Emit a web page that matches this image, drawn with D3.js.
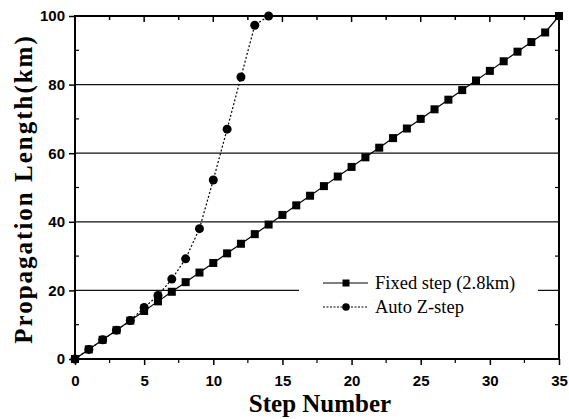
<!DOCTYPE html>
<html>
<head>
<meta charset="utf-8">
<script src="https://cdn.jsdelivr.net/npm/d3@7"></script>
<style>
  html, body { margin: 0; padding: 0; background: #fff; }
  svg { display: block; }
</style>
</head>
<body>
<svg id="chart" width="569" height="419"></svg>
<script>
// Step indices and propagation lengths (km)
const fixedSteps = d3.range(0, 36);
const fixedLength = [0, 2.8, 5.6, 8.4, 11.2, 14.0, 16.8, 19.6, 22.4, 25.2,
  28.0, 30.8, 33.6, 36.4, 39.2, 42.0, 44.8, 47.6, 50.4, 53.2,
  56.0, 58.8, 61.6, 64.4, 67.2, 70.0, 72.8, 75.6, 78.4, 81.2,
  84.0, 86.8, 89.6, 92.4, 95.2, 100];
const autoSteps = d3.range(0, 15);
const autoLength = [0, 2.8, 5.6, 8.4, 11.2, 15.0, 18.5, 23.3, 29.2, 38.0,
  52.2, 67.0, 82.2, 97.3, 100];
const gridValues = [20, 40, 60, 80];
const xTickValues = [0, 5, 10, 15, 20, 25, 30, 35];
const yTickValues = [0, 20, 40, 60, 80, 100];
const seriesNames = ["Fixed step (2.8km)", "Auto Z-step"];

const svg = d3.select("#chart");
const plotL = 75, plotR = 559, plotT = 16, plotB = 359;

const x = d3.scaleLinear().domain([0, 35]).range([plotL, plotR]);
const y = d3.scaleLinear().domain([0, 100]).range([plotB, plotT]);

const tickFont = "'Liberation Sans', Arial, sans-serif";
const serif = "'Liberation Serif', 'Times New Roman', serif";

// horizontal grid lines
svg.append("g").selectAll("line").data(gridValues).join("line")
  .attr("x1", plotL).attr("x2", plotR)
  .attr("y1", d => y(d)).attr("y2", d => y(d))
  .attr("stroke", "#111").attr("stroke-width", 1.2);

// axes: major ticks with labels (outward) on bottom/left
const xAxis = d3.axisBottom(x).tickValues(xTickValues).tickSize(6).tickPadding(10);
const gx = svg.append("g").attr("transform", `translate(0,${plotB})`).call(xAxis);
const yAxis = d3.axisLeft(y).tickValues(yTickValues).tickSize(6).tickPadding(4);
const gy = svg.append("g").attr("transform", `translate(${plotL},0)`).call(yAxis);
[gx, gy].forEach(g => {
  g.select(".domain").remove();
  g.selectAll("line").attr("stroke", "#000").attr("stroke-width", 1.5);
  g.selectAll("text").attr("font-family", tickFont).attr("font-weight", "bold")
    .attr("font-size", 15).attr("fill", "#000");
});

// minor ticks on the bottom axis
const xMinor = d3.range(2.5, 35, 5);
svg.append("g").selectAll("line").data(xMinor).join("line")
  .attr("x1", d => x(d)).attr("x2", d => x(d))
  .attr("y1", plotB).attr("y2", plotB + 4)
  .attr("stroke", "#000").attr("stroke-width", 1.2);
// top ticks (inward)
svg.append("g").selectAll("line").data(d3.range(2.5, 35, 2.5)).join("line")
  .attr("x1", d => x(d)).attr("x2", d => x(d))
  .attr("y1", plotT).attr("y2", d => plotT + (d % 5 === 0 ? 6 : 4))
  .attr("stroke", "#000").attr("stroke-width", 1.5);
// left minor ticks (inward)
svg.append("g").selectAll("line").data(d3.range(10, 100, 20)).join("line")
  .attr("x1", plotL).attr("x2", plotL + 4)
  .attr("y1", d => y(d)).attr("y2", d => y(d))
  .attr("stroke", "#000").attr("stroke-width", 1.2);
// right ticks (inward)
svg.append("g").selectAll("line").data(d3.range(10, 100, 20)).join("line")
  .attr("x1", plotR).attr("x2", plotR - 4)
  .attr("y1", d => y(d)).attr("y2", d => y(d))
  .attr("stroke", "#000").attr("stroke-width", 1.2);

// frame
svg.append("rect").attr("x", plotL).attr("y", plotT)
  .attr("width", plotR - plotL).attr("height", plotB - plotT)
  .attr("fill", "none").attr("stroke", "#000").attr("stroke-width", 2);

// series lines
const fixedData = fixedSteps.map((s, i) => [s, fixedLength[i]]);
const autoData = autoSteps.map((s, i) => [s, autoLength[i]]);
const line = d3.line().x(d => x(d[0])).y(d => y(d[1]));

svg.append("path").datum(fixedData).attr("d", line)
  .attr("fill", "none").attr("stroke", "#000").attr("stroke-width", 1.2);
svg.append("path").datum(autoData).attr("d", line)
  .attr("fill", "none").attr("stroke", "#000").attr("stroke-width", 1.2)
  .attr("stroke-dasharray", "2,2");

// markers
const sq = 8;
svg.append("g").selectAll("rect").data(fixedData).join("rect")
  .attr("x", d => x(d[0]) - sq / 2).attr("y", d => y(d[1]) - sq / 2)
  .attr("width", sq).attr("height", sq).attr("fill", "#000");
svg.append("g").selectAll("circle").data(autoData).join("circle")
  .attr("cx", d => x(d[0])).attr("cy", d => y(d[1])).attr("r", 4.5)
  .attr("fill", "#000");

// legend
const lg = svg.append("g");
lg.append("rect").attr("x", 299).attr("y", 266).attr("width", 239).attr("height", 58)
  .attr("fill", "#fff");
const rows = [283, 307];
rows.forEach((ry, i) => {
  lg.append("line").attr("x1", 323).attr("x2", 368).attr("y1", ry).attr("y2", ry)
    .attr("stroke", "#000").attr("stroke-width", 1)
    .attr("stroke-dasharray", i === 0 ? null : "2,1.5");
  if (i === 0) {
    lg.append("rect").attr("x", 346 - 3.5).attr("y", ry - 3.5)
      .attr("width", 7).attr("height", 7).attr("fill", "#000");
  } else {
    lg.append("circle").attr("cx", 346).attr("cy", ry).attr("r", 3.8).attr("fill", "#000");
  }
  lg.append("text").attr("x", 375).attr("y", ry + 6)
    .attr("font-family", serif).attr("font-size", 18.5).attr("fill", "#000")
    .text(seriesNames[i]);
});

// axis titles
svg.append("text").attr("x", 320).attr("y", 412)
  .attr("text-anchor", "middle").attr("font-family", serif)
  .attr("font-weight", "bold").attr("font-size", 25).text("Step Number");
svg.append("text").attr("transform", "translate(32,189) rotate(-90)")
  .attr("text-anchor", "middle").attr("font-family", serif)
  .attr("font-weight", "bold").attr("font-size", 25).attr("letter-spacing", 2)
  .text("Propagation Length(km)");
</script>
</body>
</html>
